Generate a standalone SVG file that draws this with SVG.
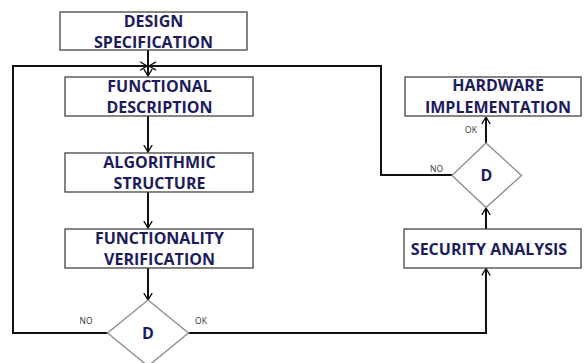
<svg xmlns="http://www.w3.org/2000/svg" width="584" height="363" viewBox="0 0 584 363">
  <style>
    .box { fill: #ffffff; stroke: #444444; stroke-width: 1.3; }
    .dia { fill: #ffffff; stroke: #8a8a8a; stroke-width: 1.3; }
    .lbl { font-family: "Open Sans", "Liberation Sans", sans-serif; font-weight: bold; font-size: 16px; fill: #1c1c5c; text-anchor: middle; }
    .tag { font-family: "Open Sans", "Liberation Sans", sans-serif; font-size: 8.5px; fill: #333333; text-anchor: middle; }
    .wire { fill: none; stroke: #111111; stroke-width: 2; marker-end: url(#arr); }
    .wire-plain { fill: none; stroke: #111111; stroke-width: 2; }
  </style>
  <defs>
    <marker id="arr" viewBox="0 0 8 10" refX="7.5" refY="5" markerWidth="4" markerHeight="5" orient="auto" markerUnits="strokeWidth">
      <path d="M0.5,0.8 L7.5,5 L0.5,9.2" fill="none" stroke="#111111" stroke-width="1.4"/>
    </marker>
  </defs>
  <rect width="584" height="363" fill="#ffffff"/>

  <g id="connectors">
    <path class="wire" d="M148,50 V76"/>
    <path class="wire" d="M107.5,333 H13 V66 H147"/>
    <path class="wire" d="M452,175 H381 V66 H149"/>
    <path class="wire" d="M148,116 V152"/>
    <path class="wire" d="M148,192 V228"/>
    <path class="wire" d="M148,268 V300"/>
    <path class="wire" d="M188.5,333 H486 V268.5"/>
    <path class="wire" d="M486,229 V208"/>
    <path class="wire" d="M486,143 V117"/>
  </g>

  <g id="design-specification">
    <rect class="box" x="60" y="12" width="187" height="38"/>
    <text class="lbl" x="153.5" y="27">DESIGN</text>
    <text class="lbl" x="153.5" y="48">SPECIFICATION</text>
  </g>

  <g id="functional-description">
    <rect class="box" x="65" y="77" width="188" height="39"/>
    <text class="lbl" x="159.5" y="92">FUNCTIONAL</text>
    <text class="lbl" x="159.5" y="112.5">DESCRIPTION</text>
  </g>

  <g id="algorithmic-structure">
    <rect class="box" x="65" y="153" width="188" height="39"/>
    <text class="lbl" x="159.5" y="168">ALGORITHMIC</text>
    <text class="lbl" x="159.5" y="189">STRUCTURE</text>
  </g>

  <g id="functionality-verification">
    <rect class="box" x="65" y="229" width="188" height="39"/>
    <text class="lbl" x="159.5" y="243.5">FUNCTIONALITY</text>
    <text class="lbl" x="159.5" y="265">VERIFICATION</text>
  </g>

  <g id="decision-1">
    <polygon class="dia" points="148,300 188.5,333 148,366 107.5,333"/>
    <text class="lbl" x="148" y="339">D</text>
    <text class="tag" x="86" y="324">NO</text>
    <text class="tag" x="201" y="324">OK</text>
  </g>

  <g id="security-analysis">
    <rect class="box" x="404" y="229" width="177" height="39"/>
    <text class="lbl" x="489" y="255">SECURITY ANALYSIS</text>
  </g>

  <g id="decision-2">
    <polygon class="dia" points="486,143 521.5,175.5 486,207.5 452,175.5"/>
    <text class="lbl" x="486.5" y="181">D</text>
    <text class="tag" x="471" y="133">OK</text>
    <text class="tag" x="436.5" y="172">NO</text>
  </g>

  <g id="hardware-implementation">
    <rect class="box" x="405" y="77" width="176" height="39"/>
    <text class="lbl" x="498" y="91">HARDWARE</text>
    <text class="lbl" x="498" y="112.5">IMPLEMENTATION</text>
  </g>
</svg>
